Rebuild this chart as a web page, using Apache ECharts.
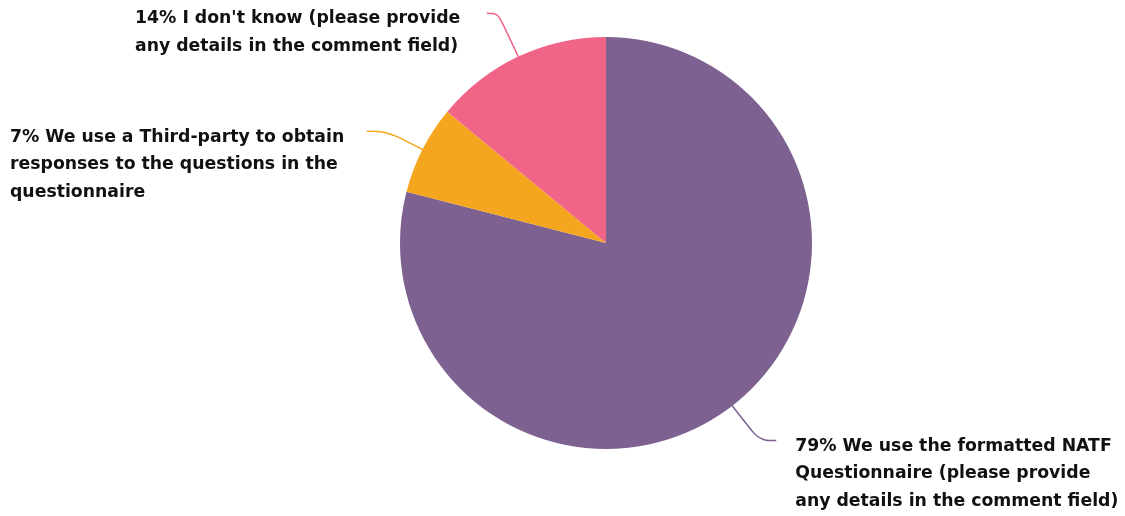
<!DOCTYPE html>
<html>
<head>
<meta charset="utf-8">
<script src="https://cdn.jsdelivr.net/npm/echarts@6/dist/echarts.min.js"></script>
<style>
  html, body { margin: 0; padding: 0; background: #ffffff; }
  #chart { width: 1125px; height: 516px; }
</style>
</head>
<body>
<div id="chart"></div>
<script>
// Survey answers, drawn clockwise from 12 o'clock
const answers = [
  "We use the formatted NATF\nQuestionnaire (please provide\nany details in the comment field)",
  "We use a Third-party to obtain\nresponses to the questions in the\nquestionnaire",
  "I don't know (please provide\nany details in the comment field)"
];
const shares = [79, 7, 14];
const colors = ["#7D6190", "#F5A61F", "#F06487"];

// per-slice leader line lengths and label alignment
const lineLen = [[44, 17], [40, 20], [48, 11]];
const alignTo = ['none', 'edge', 'edge'];
const edgeGap = [10, 10, 135];

const chart = echarts.init(document.getElementById('chart'), null, { renderer: 'canvas' });

const data = answers.map((name, i) => ({
  name: name,
  value: shares[i],
  itemStyle: { color: colors[i] },
  label: { alignTo: alignTo[i], edgeDistance: edgeGap[i] },
  labelLine: { length: lineLen[i][0], length2: lineLen[i][1] }
}));

chart.setOption({
  animation: false,
  series: [{
    type: 'pie',
    left: 0, top: 0, right: 0, bottom: 0,
    center: [606, 243],
    radius: 206,
    startAngle: 90,
    clockwise: true,
    avoidLabelOverlap: false,
    data: data,
    label: {
      show: true,
      position: 'outside',
      formatter: p => p.value + '% ' + p.name,
      fontFamily: 'DejaVu Sans, Verdana, sans-serif',
      fontWeight: 'bold',
      fontSize: 17.3,
      lineHeight: 27.5,
      color: '#111111',
      distanceToLabelLine: 19,
      padding: [-8, 0, 0, 0]
    },
    // hang each text block from the end of its leader line
    labelLayout: () => ({ verticalAlign: 'top' }),
    labelLine: {
      show: true,
      smooth: 0.35,
      lineStyle: { width: 1.5 }
    },
    itemStyle: { borderWidth: 0 },
    emphasis: { disabled: true }
  }]
});
</script>
</body>
</html>
